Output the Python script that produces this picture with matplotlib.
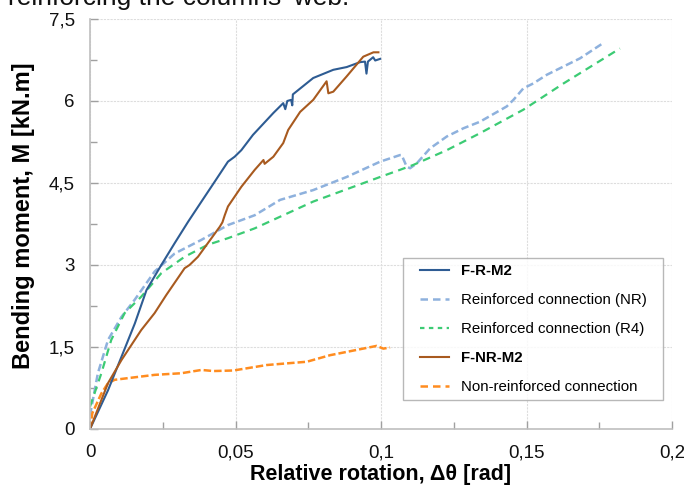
import matplotlib
matplotlib.use("Agg")
import matplotlib.pyplot as plt
from matplotlib.ticker import MultipleLocator, FuncFormatter
from matplotlib.lines import Line2D
from matplotlib.legend_handler import HandlerLine2D

plt.rcParams['font.family'] = ['Liberation Sans', 'DejaVu Sans']

# F-R-M2
frm2_x = [0.0, 0.0062, 0.0108, 0.0154, 0.0194, 0.0245, 0.0291, 0.0337, 0.0383, 0.0428,
          0.0474, 0.0497, 0.052, 0.056, 0.063, 0.0664,
          0.0671, 0.0678, 0.0691, 0.0695, 0.0697, 0.0767, 0.0836, 0.0882, 0.0928,
          0.0945, 0.0950, 0.0955, 0.0973, 0.0980, 0.0997]
frm2_y = [0.0, 0.71, 1.32, 1.93, 2.54, 3.00, 3.40, 3.79, 4.16, 4.52,
          4.89, 4.98, 5.10, 5.38, 5.78, 5.96,
          5.85, 6.00, 6.02, 5.92, 6.12, 6.42, 6.57, 6.62, 6.71,
          6.72, 6.50, 6.72, 6.80, 6.74, 6.77]

# Reinforced connection (NR)
nr_x = [0.0, 0.0027, 0.0062, 0.0108, 0.0153, 0.0222, 0.0291, 0.0383, 0.0474, 0.0566,
        0.0653, 0.0767, 0.0882, 0.0997, 0.1065, 0.1071, 0.1088, 0.110, 0.1123, 0.1168,
        0.1226, 0.1283, 0.134, 0.1432, 0.1455, 0.1489, 0.1523, 0.157, 0.1684, 0.1758]
nr_y = [0.25, 1.02, 1.63, 2.05, 2.36, 2.88, 3.21, 3.46, 3.73, 3.91,
        4.19, 4.37, 4.61, 4.89, 5.01, 5.01, 4.80, 4.77, 4.86, 5.13,
        5.35, 5.50, 5.62, 5.90, 6.02, 6.23, 6.32, 6.48, 6.78, 7.04]

# Reinforced connection (R4)
r4_x = [0.0, 0.0039, 0.0073, 0.0119, 0.0176, 0.0245, 0.0325, 0.0405, 0.0474, 0.0566,
        0.0767, 0.0997, 0.1065, 0.1111, 0.1226, 0.134, 0.1489, 0.1627, 0.1821]
r4_y = [0.41, 1.02, 1.63, 2.12, 2.42, 2.85, 3.15, 3.37, 3.49, 3.67,
        4.16, 4.61, 4.74, 4.83, 5.10, 5.41, 5.84, 6.32, 6.96]

# F-NR-M2
fnrm2_x = [0.0, 0.0039, 0.0062, 0.0108, 0.0176, 0.0222, 0.0262, 0.0298, 0.0325, 0.0342,
           0.0371, 0.0405, 0.0446, 0.0455, 0.0463, 0.0474, 0.052, 0.0566, 0.0596, 0.0600,
           0.063, 0.0664, 0.0681, 0.0722, 0.0767, 0.0813, 0.0819, 0.0836, 0.0882, 0.0939,
           0.0974, 0.0991]
fnrm2_y = [0.0, 0.53, 0.84, 1.26, 1.81, 2.12, 2.45, 2.73, 2.94, 3.00,
           3.15, 3.40, 3.70, 3.78, 3.91, 4.07, 4.43, 4.74, 4.92, 4.85,
           4.98, 5.23, 5.47, 5.80, 6.02, 6.36, 6.14, 6.17, 6.45, 6.81,
           6.89, 6.89]

# Non-reinforced connection
non_x = [0.0, 0.0008, 0.0039, 0.0062, 0.0085, 0.013, 0.0222, 0.0314, 0.0383, 0.0424,
         0.0493, 0.0607, 0.0745, 0.0825, 0.0882, 0.0985, 0.1008, 0.1031]
non_y = [0.0, 0.29, 0.65, 0.84, 0.90, 0.93, 0.99, 1.02, 1.08, 1.06,
         1.07, 1.17, 1.23, 1.35, 1.41, 1.52, 1.47, 1.49]

x_ticks = [0, 0.05, 0.1, 0.15, 0.2]
y_ticks = [0, 1.5, 3, 4.5, 6, 7.5]

c_frm2 = '#2E5C93'
c_nr = '#8EB1DD'
c_r4 = '#3CCB74'
c_fnrm2 = '#A85A1F'
c_non = '#FF8C1F'

fig = plt.figure(figsize=(6.84, 4.86), dpi=100)
ax = fig.add_axes([0.1316, 0.1173, 0.8509, 0.8437])

ax.plot(nr_x, nr_y, color=c_nr, lw=1.8, dashes=(3, 1.5))
ax.plot(r4_x, r4_y, color=c_r4, lw=1.6, dashes=(3.5, 2.5))
ax.plot(non_x, non_y, color=c_non, lw=1.8, dashes=(3, 1.2))
ax.plot(frm2_x, frm2_y, color=c_frm2, lw=1.5)
ax.plot(fnrm2_x, fnrm2_y, color=c_fnrm2, lw=1.5)

ax.set_xlim(0, 0.2)
ax.set_ylim(0, 7.5)
ax.set_xticks(x_ticks)
ax.set_yticks(y_ticks)
ax.xaxis.set_minor_locator(MultipleLocator(0.025))
ax.yaxis.set_minor_locator(MultipleLocator(0.75))
fmt = FuncFormatter(lambda v, p: ('%g' % v).replace('.', ','))
ax.xaxis.set_major_formatter(fmt)
ax.yaxis.set_major_formatter(fmt)

ax.grid(True, which='major', color='#DDDDDD', lw=0.8, ls=(0, (2, 1)))
ax.set_axisbelow(True)
for s in ['top', 'right']:
    ax.spines[s].set_visible(False)
for s in ['left', 'bottom']:
    ax.spines[s].set_color('#BFBFBF')
    ax.spines[s].set_linewidth(1.2)
ax.tick_params(which='both', direction='in', color='#A0A0A0', width=1, labelsize=13.5,
               labelcolor='#111111')
ax.tick_params(axis='x', which='major', pad=11)
ax.tick_params(axis='y', which='major', pad=11)
ax.tick_params(which='major', length=6)
ax.tick_params(which='minor', length=5)

ax.set_xlabel('Relative rotation, Δθ [rad]', fontsize=15.5, fontweight='bold', labelpad=2)
ax.set_ylabel('Bending moment, M [kN.m]', fontsize=17, fontweight='bold', labelpad=10,
              y=0.52)

handles = [
    Line2D([], [], color=c_frm2, lw=1.5),
    Line2D([], [], color=c_nr, lw=1.8, dashes=(3, 2)),
    Line2D([], [], color=c_r4, lw=1.6, dashes=(2, 2)),
    Line2D([], [], color=c_fnrm2, lw=1.5),
    Line2D([], [], color=c_non, lw=1.8, dashes=(3, 2)),
]
labels = ['F-R-M2', 'Reinforced connection (NR)', 'Reinforced connection (R4)',
          'F-NR-M2', 'Non-reinforced connection']
hmap = {h: HandlerLine2D(xpad=0.75) for h in handles}
leg = ax.legend(handles, labels, loc='upper left',
                bbox_to_anchor=(0.538, 0.076, 0.447, 0.341), mode='expand',
                fontsize=10.8, frameon=True, fancybox=False, edgecolor='#A6A6A6',
                handlelength=2.65, labelspacing=1.0, borderpad=0.4, handletextpad=0.8,
                borderaxespad=0, handler_map=hmap)
leg.get_frame().set_linewidth(1.0)
for t in leg.get_texts():
    if t.get_text().startswith('F-'):
        t.set_fontweight('bold')

fig.text(0.012, 0.99, "reinforcing the columns' web.", fontsize=19, va='baseline',
         color='#111111')

fig.savefig('out.png', dpi=100)
